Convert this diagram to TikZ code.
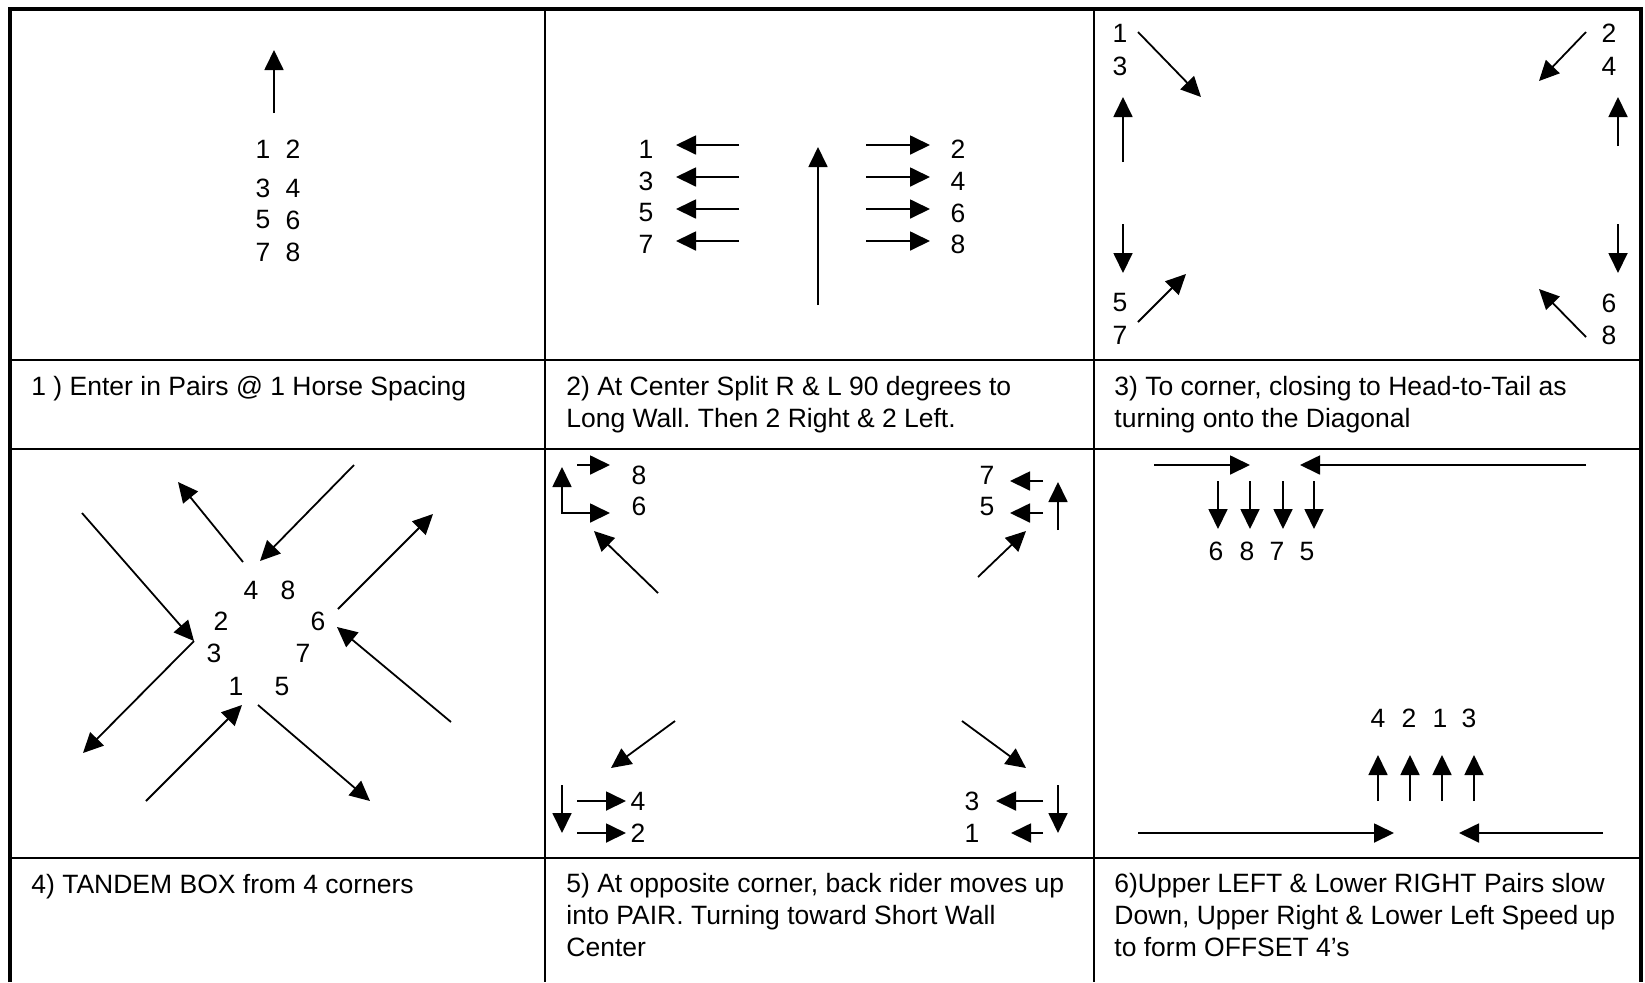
\documentclass[tikz,border=0pt]{standalone}
\usepackage{fontspec}
\setmainfont{Liberation Sans}
\usetikzlibrary{arrows.meta}
\frenchspacing

\begin{document}
\begin{tikzpicture}[x=0.5pt, y=-0.5pt,
  num/.style={inner sep=0pt, font=\fontsize{13.25}{15.85}\selectfont},
  stepnote/.style={anchor=base west, inner sep=0pt, align=left,
              font=\fontsize{13.25}{15.85}\selectfont},
  mv/.style={-{Triangle[length=10pt, width=9.5pt]}, line width=0.9pt},
  gridline/.style={line width=1.1pt},
]
\useasboundingbox (0,0) rectangle (1645,982);

% Frame
\draw[gridline] (545,9) -- (545,982);
\draw[gridline] (1094,9) -- (1094,982);
\draw[gridline] (10,360) -- (1641,360);
\draw[gridline] (10,449) -- (1641,449);
\draw[gridline] (10,858) -- (1641,858);
\draw[line width=2.2pt] (10,982) -- (10,9) -- (1641,9) -- (1641,982);

% 1) Enter in pairs
\draw[mv] (274,113) -- (274,50);
\node[num] (a1) at (263,149) {1};
\node[num] (a2) at (293,149) {2};
\node[num] (a3) at (263,188) {3};
\node[num] (a4) at (293,188) {4};
\node[num] (a5) at (263,220) {5};
\node[num] (a6) at (293,220) {6};
\node[num] (a7) at (263,252) {7};
\node[num] (a8) at (293,252) {8};

% 2) Split at center
\draw[mv] (818,305) -- (818,147);
\node[num] (b1) at (646,149) {1};
\node[num] (b3) at (646,181) {3};
\node[num] (b5) at (646,213) {5};
\node[num] (b7) at (646,244) {7};
\node[num] (b2) at (958,149) {2};
\node[num] (b4) at (958,181) {4};
\node[num] (b6) at (958,213) {6};
\node[num] (b8) at (958,244) {8};
\draw[mv] (739,145) -- (676,145);
\draw[mv] (739,177) -- (676,177);
\draw[mv] (739,209) -- (676,209);
\draw[mv] (739,241) -- (676,241);
\draw[mv] (866,145) -- (930,145);
\draw[mv] (866,177) -- (930,177);
\draw[mv] (866,209) -- (930,209);
\draw[mv] (866,241) -- (930,241);

% 3) To the corners
\node[num] (c1) at (1120,33) {1};
\node[num] (c3) at (1120,66) {3};
\node[num] (c2) at (1609,33) {2};
\node[num] (c4) at (1609,66) {4};
\node[num] (c5) at (1120,303) {5};
\node[num] (c7) at (1120,335) {7};
\node[num] (c6) at (1609,303) {6};
\node[num] (c8) at (1609,335) {8};
\draw[mv] (1138,32) -- (1201,97);
\draw[mv] (1586,32) -- (1539,81);
\draw[mv] (1123,162) -- (1123,97);
\draw[mv] (1618,146) -- (1618,97);
\draw[mv] (1123,224) -- (1123,273);
\draw[mv] (1618,224) -- (1618,273);
\draw[mv] (1138,322) -- (1186,274);
\draw[mv] (1586,337) -- (1539,289);

% 4) Tandem box
\node[num] (d4) at (251,590) {4};
\node[num] (d8) at (288,590) {8};
\node[num] (d2) at (221,621) {2};
\node[num] (d6) at (318,621) {6};
\node[num] (d3) at (214,653) {3};
\node[num] (d7) at (303,653) {7};
\node[num] (d1) at (236,686) {1};
\node[num] (d5) at (282,686) {5};
\draw[mv] (82,513) -- (194,641);
\draw[mv] (194,641) -- (83,753);
\draw[mv] (243,562) -- (178,482);
\draw[mv] (354,465) -- (260,561);
\draw[mv] (338,609) -- (433,514);
\draw[mv] (451,722) -- (337,627);
\draw[mv] (146,801) -- (242,705);
\draw[mv] (258,705) -- (370,801);

% 5) Back rider moves up
\node[num] (e8) at (639,475) {8};
\node[num] (e6) at (639,506) {6};
\node[num] (e7) at (987,475) {7};
\node[num] (e5) at (987,506) {5};
\node[num] (e4) at (638,801) {4};
\node[num] (e2) at (638,833) {2};
\node[num] (e3) at (972,801) {3};
\node[num] (e1) at (972,833) {1};
\draw[mv, {Triangle[length=10pt, width=9.5pt]}-{Triangle[length=10pt, width=9.5pt]}] (562,467) |- (610,513);
\draw[mv] (577,465) -- (610,465);
\draw[mv] (658,593) -- (594,531);
\draw[mv] (1043,481) -- (1010,481);
\draw[mv] (1043,513) -- (1010,513);
\draw[mv] (1058,530) -- (1058,482);
\draw[mv] (978,577) -- (1026,531);
\draw[mv] (562,785) -- (562,833);
\draw[mv] (577,801) -- (626,801);
\draw[mv] (577,833) -- (626,833);
\draw[mv] (675,721) -- (611,768);
\draw[mv] (1043,801) -- (996,801);
\draw[mv] (1043,833) -- (1011,833);
\draw[mv] (1058,785) -- (1058,833);
\draw[mv] (962,721) -- (1026,768);

% 6) Offset fours
\draw[mv] (1154,465) -- (1250,465);
\draw[mv] (1586,465) -- (1300,465);
\draw[mv] (1218,481) -- (1218,529);
\draw[mv] (1250,481) -- (1250,529);
\draw[mv] (1283,481) -- (1283,529);
\draw[mv] (1314,481) -- (1314,529);
\node[num] (f6) at (1216,551) {6};
\node[num] (f8) at (1247,551) {8};
\node[num] (f7) at (1277,551) {7};
\node[num] (f5) at (1307,551) {5};
\node[num] (f4) at (1378,718) {4};
\node[num] (f2) at (1409,718) {2};
\node[num] (f1) at (1440,718) {1};
\node[num] (f3) at (1469,718) {3};
\draw[mv] (1378,801) -- (1378,755);
\draw[mv] (1410,801) -- (1410,755);
\draw[mv] (1442,801) -- (1442,755);
\draw[mv] (1474,801) -- (1474,755);
\draw[mv] (1138,833) -- (1394,833);
\draw[mv] (1603,833) -- (1459,833);

% Captions (base = last line)
\node[stepnote] (note1) at (31,395) {1 ) Enter in Pairs @ 1 Horse Spacing};
\node[stepnote] (note2) at (566,427) {2) At Center Split R \& L 90 degrees to\\Long Wall. Then 2 Right \& 2 Left.};
\node[stepnote] (note3) at (1114,427) {3) To corner, closing to Head-to-Tail as\\turning onto the Diagonal};
\node[stepnote] (note4) at (31,893) {4) TANDEM BOX from 4 corners};
\node[stepnote] (note5) at (566,956) {5) At opposite corner, back rider moves up\\into PAIR. Turning toward Short Wall\\Center};
\node[stepnote] (note6) at (1114,956) {6)Upper LEFT \& Lower RIGHT Pairs slow\\Down, Upper Right \& Lower Left Speed up\\to form OFFSET 4’s};
\end{tikzpicture}
\end{document}
